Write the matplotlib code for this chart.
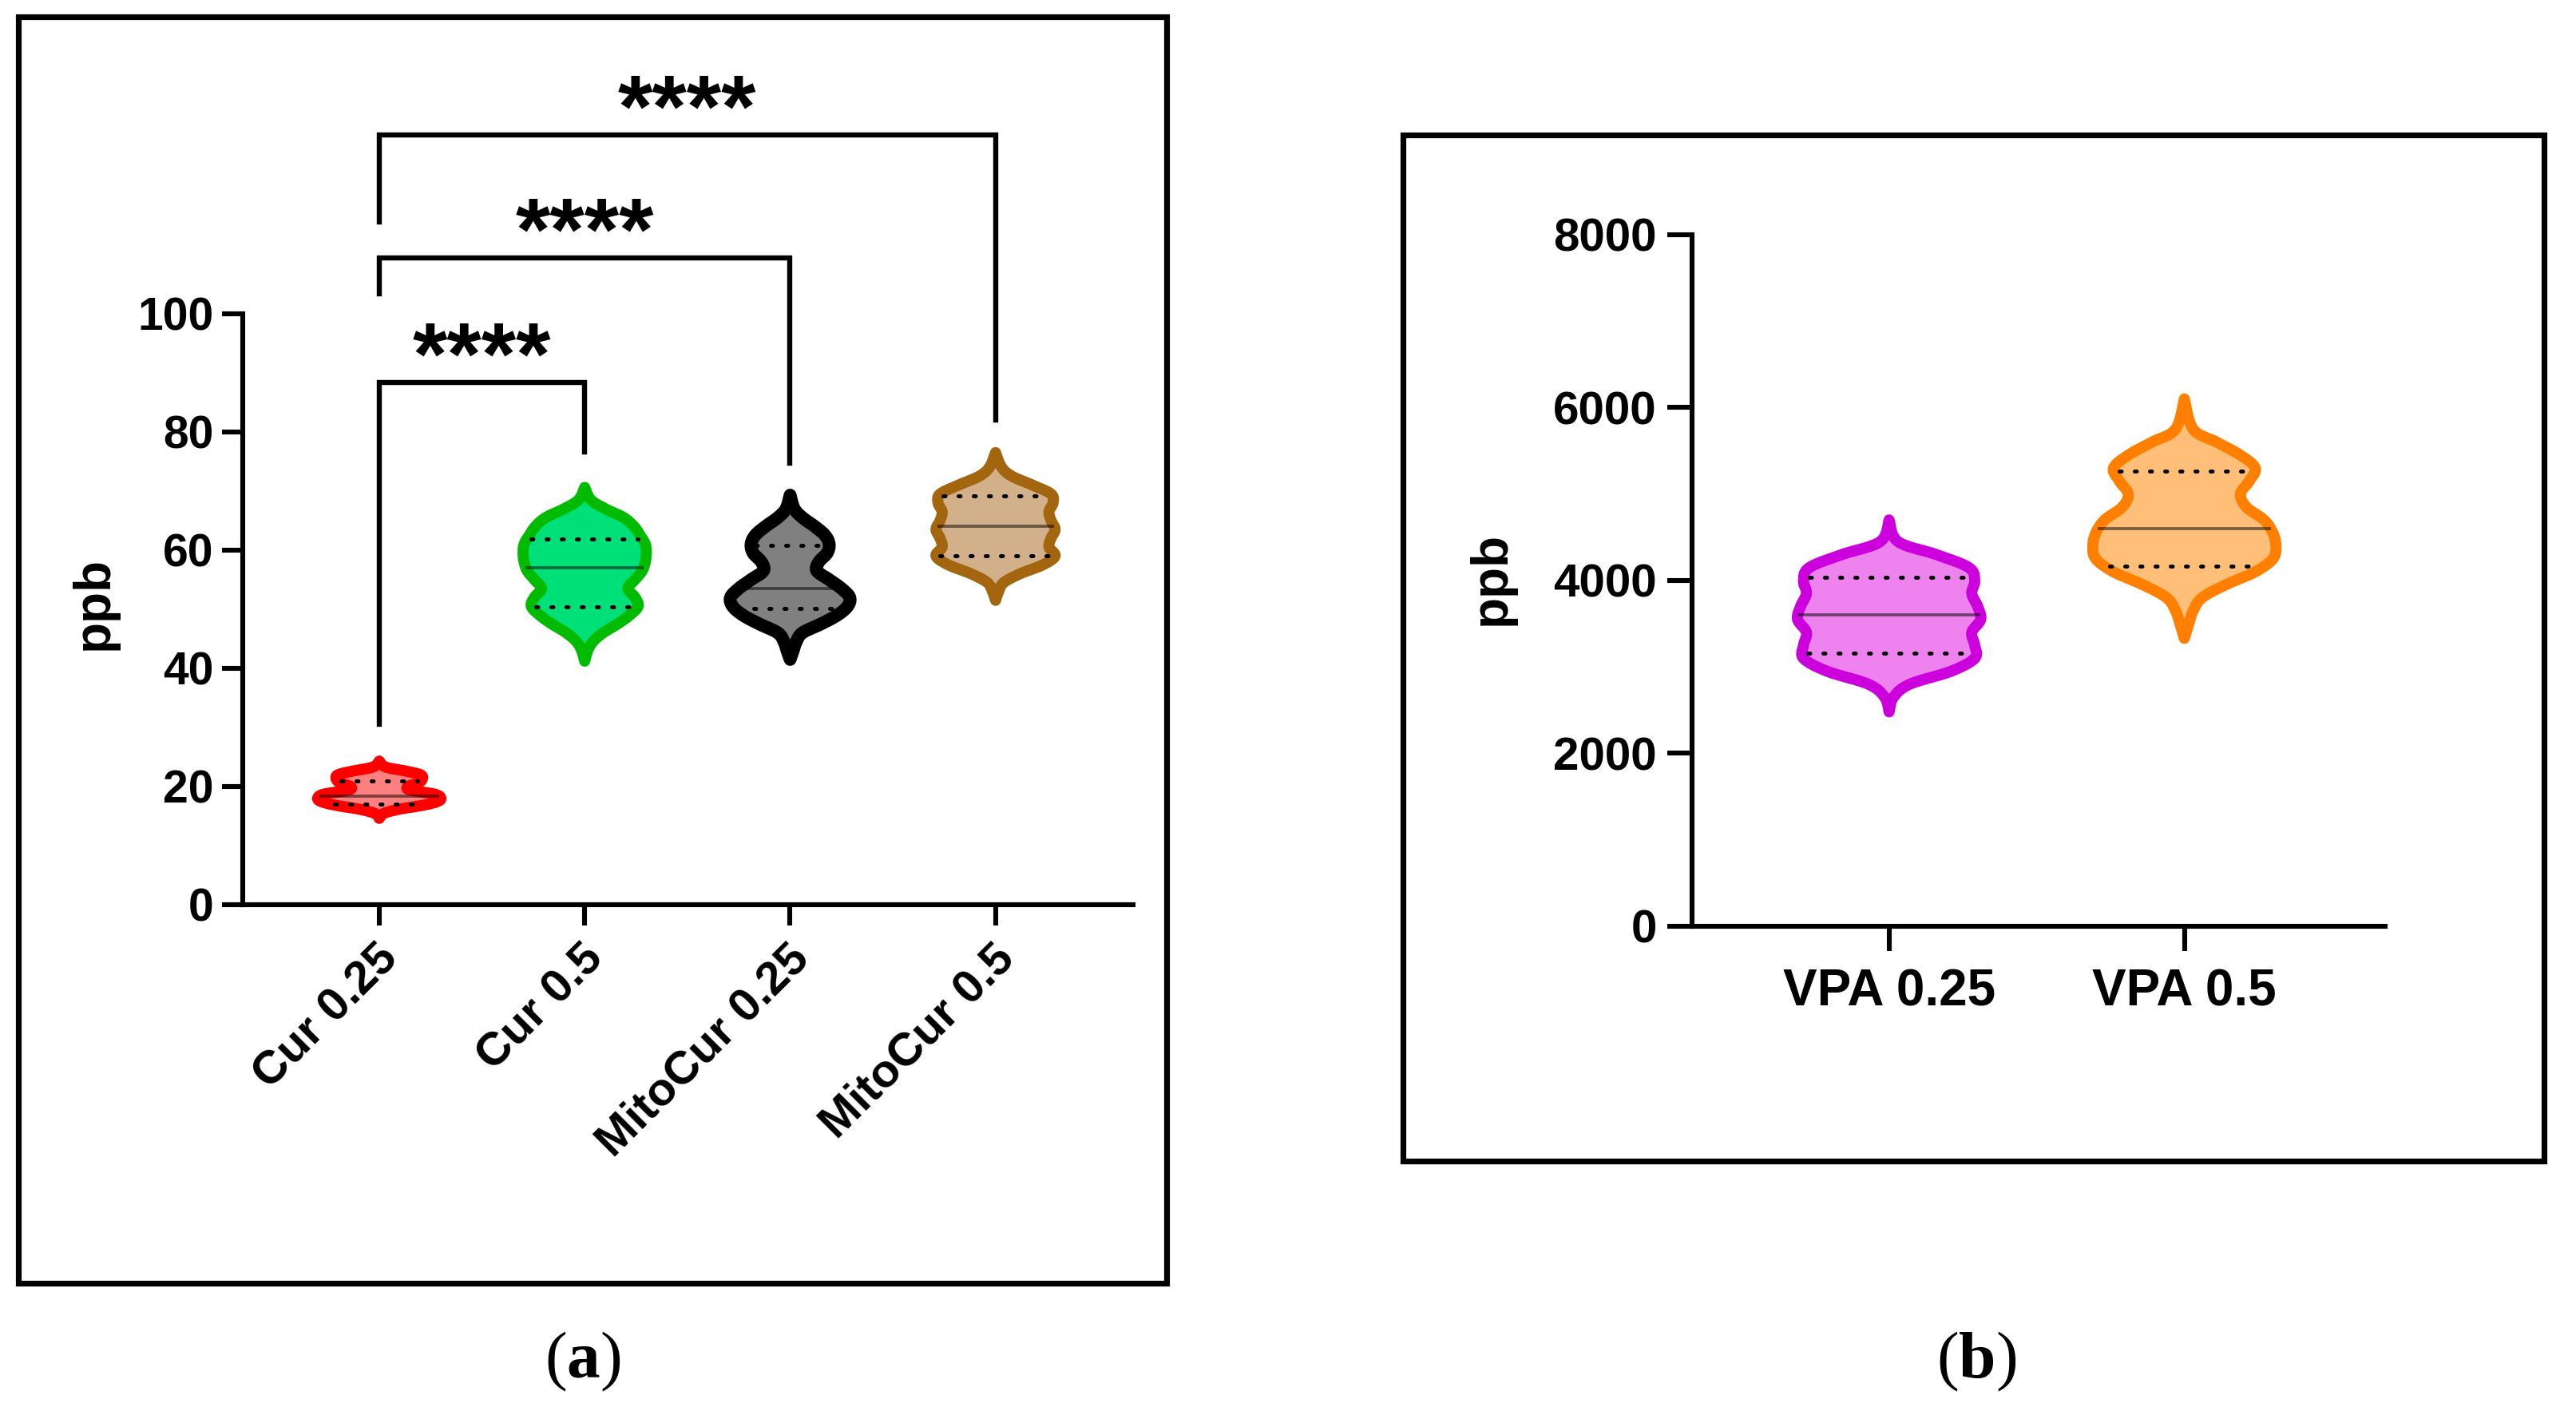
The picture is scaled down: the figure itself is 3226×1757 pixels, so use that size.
import numpy as np
import matplotlib.pyplot as plt
from matplotlib.patches import Rectangle
from matplotlib.transforms import ScaledTranslation

plt.rcParams['font.family'] = ['Liberation Sans', 'DejaVu Sans']
plt.rcParams['font.weight'] = 'bold'
plt.rcParams['mathtext.fontset'] = 'custom'
plt.rcParams['mathtext.rm'] = 'Liberation Serif'
plt.rcParams['mathtext.bf'] = 'Liberation Serif:bold'

# Panel (a) data
groups_a = ['Cur 0.25', 'Cur 0.5', 'MitoCur 0.25', 'MitoCur 0.5']
medians_a = [18.4, 57.0, 53.5, 64.1]
q1_a = [17.0, 50.4, 50.1, 59.1]
q3_a = [21.0, 61.9, 60.8, 69.2]

# violin outlines: level -> half width (category units)
cur025_y = [14.6, 15.4, 16.1, 16.8, 17.4, 18.0, 18.7, 19.4, 20.0, 20.6, 21.3, 22.0, 22.6, 23.3, 24.3]
cur025_w = [0, 0.02, 0.09, 0.21, 0.28, 0.30, 0.27, 0.15, 0.14, 0.19, 0.21, 0.20, 0.13, 0.03, 0]
cur05_y = [41.2, 43.0, 44.5, 46.0, 47.5, 49.0, 50.5, 52.0, 53.5, 55.0, 56.5, 58.0, 59.5, 61.0, 62.5,
           64.0, 65.5, 67.0, 68.5, 70.6]
cur05_w = [0, 0.015, 0.04, 0.09, 0.16, 0.22, 0.26, 0.245, 0.21, 0.245, 0.28, 0.295, 0.30, 0.295, 0.27,
           0.24, 0.19, 0.10, 0.03, 0]
mito025_y = [41.5, 43.0, 44.5, 46.0, 47.5, 49.0, 50.5, 52.0, 53.5, 55.0, 56.5, 58.0, 59.5, 61.0, 62.5,
             64.0, 65.5, 67.0, 69.3]
mito025_w = [0, 0.015, 0.03, 0.06, 0.15, 0.23, 0.28, 0.29, 0.25, 0.19, 0.13, 0.14, 0.18, 0.19, 0.17,
             0.12, 0.06, 0.02, 0]
mito05_y = [51.5, 53.0, 54.5, 56.0, 57.5, 59.0, 60.5, 62.0, 63.5, 65.0, 66.5, 68.0, 69.5, 71.0, 72.5,
            74.0, 76.5]
mito05_w = [0, 0.015, 0.04, 0.12, 0.23, 0.29, 0.26, 0.27, 0.29, 0.27, 0.26, 0.28, 0.27, 0.18, 0.08,
            0.03, 0]

edge_a = ['#FF0000', '#00BB00', '#000000', '#A3660F']
fill_a = ['#FF8080', '#00E078', '#808080', '#D2B08A']

# significance brackets: (left, right, bar height, left leg end, right leg end)
pairs = [(0, 1), (0, 2), (0, 3)]
bar_y = [88.4, 109.5, 130.3]
leg_left = [30.5, 103.4, 115.5]
leg_right = [76.6, 74.7, 82.0]
stars = ['****', '****', '****']

# Panel (b) data
groups_b = ['VPA 0.25', 'VPA 0.5']
medians_b = [3600, 4602]
q1_b = [3157, 4170]
q3_b = [4037, 5265]
vpa025_y = [2480, 2650, 2800, 2950, 3100, 3250, 3400, 3550, 3700, 3850, 4000, 4150, 4300, 4450, 4700]
vpa025_w = [0, 0.015, 0.07, 0.21, 0.29, 0.29, 0.28, 0.31, 0.30, 0.28, 0.29, 0.27, 0.16, 0.03, 0]
vpa05_y = [3330, 3500, 3650, 3800, 3950, 4100, 4250, 4400, 4550, 4700, 4850, 5000, 5150, 5300, 5450,
           5600, 5750, 6100]
vpa05_w = [0, 0.015, 0.03, 0.06, 0.14, 0.24, 0.30, 0.31, 0.30, 0.27, 0.21, 0.19, 0.22, 0.24, 0.19,
           0.11, 0.03, 0]
edge_b = ['#CC00DD', '#FF8000']
fill_b = ['#EE82EE', '#FFBF78']


def smooth(ys, ws, n=12):
    # catmull-rom curve through the read-off outline points
    p = np.column_stack([ys, ws]).astype(float)
    p = np.vstack([p[0], p, p[-1]])
    out = []
    t = np.linspace(0, 1, n, endpoint=False)[:, None]
    for i in range(1, len(p) - 2):
        p0, p1, p2, p3 = p[i - 1], p[i], p[i + 1], p[i + 2]
        seg = 0.5 * (2 * p1 + (-p0 + p2) * t + (2 * p0 - 5 * p1 + 4 * p2 - p3) * t ** 2
                     + (-p0 + 3 * p1 - 3 * p2 + p3) * t ** 3)
        out.append(seg)
    out.append(p[-2][None, :])
    c = np.vstack(out)
    return c[:, 0], np.clip(c[:, 1], 0, None)


def violin(ax, x, ys, ws, med, q1, q3, ec, fc, lw=5.0):
    yy, hw = smooth(ys, ws)
    px = np.concatenate([x + hw, (x - hw)[::-1]])
    py = np.concatenate([yy, yy[::-1]])
    ax.fill(px, py, facecolor=fc, edgecolor=ec, linewidth=lw, joinstyle='round', zorder=3, clip_on=False)
    w = np.interp(med, yy, hw)
    ax.plot([x - w, x + w], [med, med], color='k', alpha=0.5, lw=1.4, zorder=4, solid_capstyle='butt')
    for q in (q1, q3):
        w = np.interp(q, yy, hw) - 0.02
        ax.plot([x - w, x + w], [q, q], color='k', lw=1.8, ls=(0, (0.5, 3.3)), zorder=4,
                dash_capstyle='round')


fig = plt.figure(figsize=(16.13, 8.785), dpi=200)

# outer boxes
fig.add_artist(Rectangle((0.0071, 0.0854), 0.4458, 0.9026, transform=fig.transFigure,
                         fill=False, lw=2.6, ec='k'))
fig.add_artist(Rectangle((0.5446, 0.1725), 0.4430, 0.7313, transform=fig.transFigure,
                         fill=False, lw=2.6, ec='k'))

# ---- panel a
ax = fig.add_axes([0.0942, 0.3552, 0.3457, 0.4212])
prof_a = [(cur025_y, cur025_w), (cur05_y, cur05_w), (mito025_y, mito025_w), (mito05_y, mito05_w)]
for i, (ys, ws) in enumerate(prof_a):
    violin(ax, i, ys, ws, medians_a[i], q1_a[i], q3_a[i], edge_a[i], fill_a[i],
           lw=5.8 if i == 2 else 5.0)

for (l, r), h, a, b, s in zip(pairs, bar_y, leg_left, leg_right, stars):
    ax.plot([l, l, r, r], [a, h, h, b], color='k', lw=2.3, clip_on=False, zorder=2,
            solid_joinstyle='miter')
    ax.text((l + r) / 2, h + 5.1, s, ha='center', va='center_baseline', fontsize=40,
            fontweight='bold')

ax.set_xlim(-0.665, 3.67)
ax.set_ylim(0, 100)
ax.set_yticks([0, 20, 40, 60, 80, 100])
ax.set_xticks(range(4))
ax.set_xticklabels(groups_a, rotation=45, ha='right', va='center', rotation_mode='anchor')
ax.tick_params(axis='both', width=2.2, length=9.5, direction='out')
ax.tick_params(axis='y', labelsize=20.5, pad=3.5)
ax.tick_params(axis='x', labelsize=21, pad=10)
shift = ScaledTranslation(0.075, -0.025, fig.dpi_scale_trans)
for lab in ax.get_xticklabels():
    lab.set_transform(lab.get_transform() + shift)
for sp in ['top', 'right']:
    ax.spines[sp].set_visible(False)
for sp in ['left', 'bottom']:
    ax.spines[sp].set_linewidth(2.2)
ax.set_ylabel('ppb', fontsize=23, fontweight='bold')
ax.yaxis.set_label_coords(-0.140, 0.51)

# ---- panel b
bx = fig.add_axes([0.6569, 0.3398, 0.2690, 0.4929])
prof_b = [(vpa025_y, vpa025_w), (vpa05_y, vpa05_w)]
for i, (ys, ws) in enumerate(prof_b):
    violin(bx, i, ys, ws, medians_b[i], q1_b[i], q3_b[i], edge_b[i], fill_b[i])
bx.set_xlim(-0.667, 1.68)
bx.set_ylim(0, 8000)
bx.set_yticks([0, 2000, 4000, 6000, 8000])
bx.set_xticks(range(2))
bx.set_xticklabels(groups_b)
bx.tick_params(axis='both', width=2.2, length=11, direction='out')
bx.tick_params(axis='x', labelsize=23, pad=8)
bx.tick_params(axis='y', labelsize=21, pad=5)
for sp in ['top', 'right']:
    bx.spines[sp].set_visible(False)
for sp in ['left', 'bottom']:
    bx.spines[sp].set_linewidth(2.2)
bx.set_ylabel('ppb', fontsize=23, fontweight='bold')
bx.yaxis.set_label_coords(-0.255, 0.503)

for lab in ax.get_xticklabels() + ax.get_yticklabels() + bx.get_xticklabels() + bx.get_yticklabels():
    lab.set_fontweight('bold')

# captions
fig.text(0.2263, 0.0295, r'($\mathbf{a}$)', fontsize=30, family='Liberation Serif',
         fontweight='normal', ha='center', va='center')
fig.text(0.7672, 0.0295, r'($\mathbf{b}$)', fontsize=30, family='Liberation Serif',
         fontweight='normal', ha='center', va='center')

fig.savefig('out.png', dpi=200)
